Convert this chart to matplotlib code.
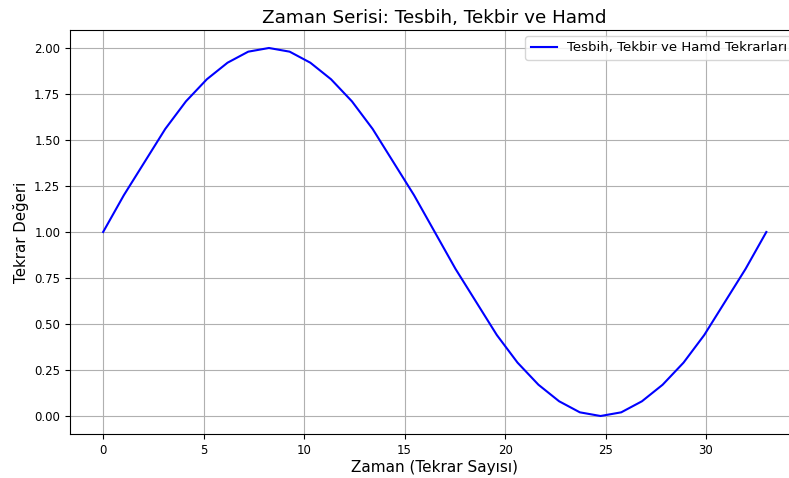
import matplotlib
matplotlib.use("Agg")
import matplotlib.pyplot as plt

x_values = [0.00, 1.03, 2.06, 3.09, 4.12, 5.16, 6.19, 7.22, 8.25, 9.28, 10.31,
            11.34, 12.38, 13.41, 14.44, 15.47, 16.50, 17.53, 18.56, 19.59, 20.62,
            21.66, 22.69, 23.72, 24.75, 25.78, 26.81, 27.84, 28.88, 29.91, 30.94,
            31.97, 33.00]
y_values = [1.00, 1.20, 1.38, 1.56, 1.71, 1.83, 1.92, 1.98, 2.00, 1.98, 1.92,
            1.83, 1.71, 1.56, 1.38, 1.20, 1.00, 0.80, 0.62, 0.44, 0.29, 0.17,
            0.08, 0.02, 0.00, 0.02, 0.08, 0.17, 0.29, 0.44, 0.62, 0.80, 1.00]

title = "Zaman Serisi: Tesbih, Tekbir ve Hamd"
xlabel = "Zaman (Tekrar Sayısı)"
ylabel = "Tekrar Değeri"
series_label = "Tesbih, Tekbir ve Hamd Tekrarları"

fig = plt.figure(figsize=(7.89, 4.78), dpi=100)
ax = fig.add_axes([0.0887, 0.0912, 0.9246, 0.8469])
ax.plot(x_values, y_values, color="blue", label=series_label, linewidth=1.5)
ax.set_title(title, fontsize=13.2, pad=5)
ax.set_xlabel(xlabel, fontsize=11, labelpad=2)
ax.set_ylabel(ylabel, fontsize=10.8)
ax.tick_params(labelsize=8.5)
ax.grid(True)
ax.legend(loc="upper right", fontsize=9.5)
fig.savefig("out.png", dpi=100)
